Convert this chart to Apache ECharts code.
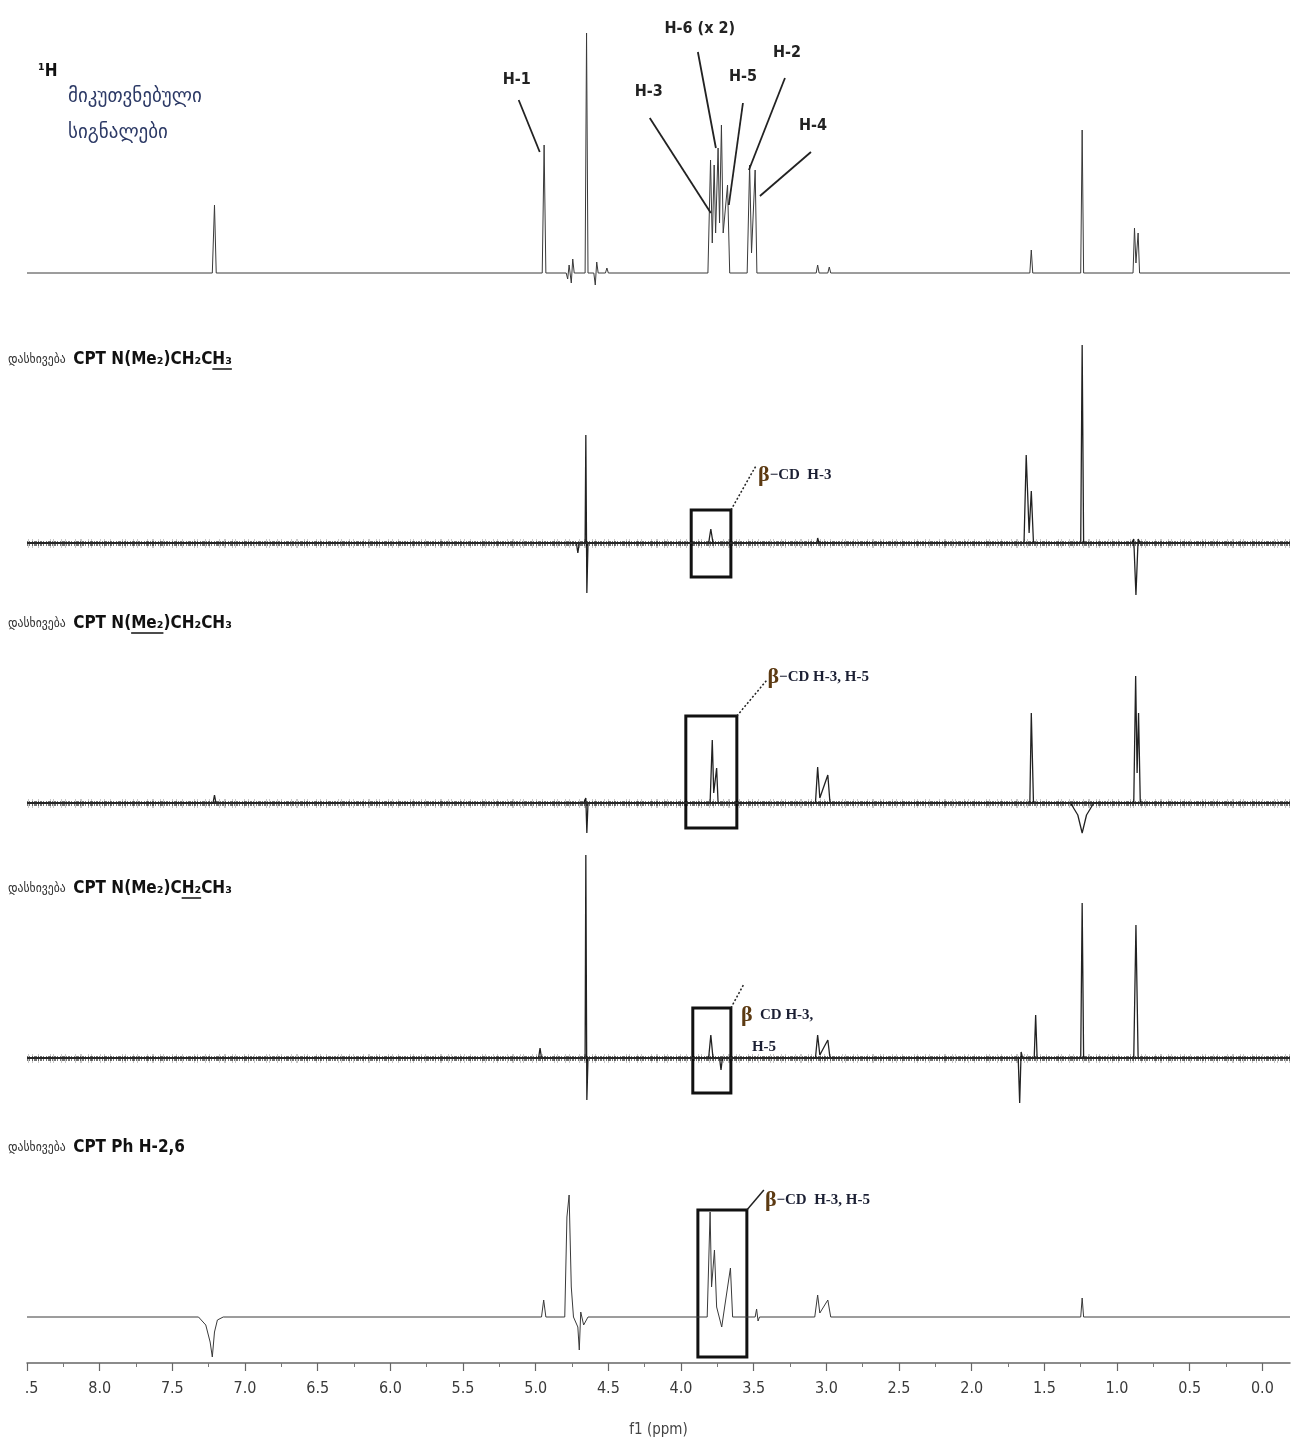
<!DOCTYPE html>
<html>
<head>
<meta charset="utf-8">
<script src="https://cdn.jsdelivr.net/npm/echarts@6/dist/echarts.min.js"></script>
<style>
  html, body { margin: 0; padding: 0; background: #fff; }
  #c { width: 1301px; height: 1443px; }
</style>
</head>
<body>
<div id="c"></div>
<script>
// Chemical shift axis (ppm), drawn right-to-left
const shiftMax = 8.5;
const shiftMin = -0.19;
const majorTicks = [8.5, 8.0, 7.5, 7.0, 6.5, 6.0, 5.5, 5.0, 4.5, 4.0, 3.5, 3.0, 2.5, 2.0, 1.5, 1.0, 0.5, 0.0];
const minorTicks = [8.25, 7.75, 7.25, 6.75, 6.25, 5.75, 5.25, 4.75, 4.25, 3.75, 3.25, 2.75, 2.25, 1.75, 1.25, 0.75, 0.25];

// 1H spectrum with assigned beta-CD signals: [ppm, intensity]
const assignedSpectrum = [
  [8.5, 0], [7.225, 0], [7.21, 68], [7.198, 0],
  [4.955, 0], [4.942, 128], [4.93, 0],
  [4.79, 0], [4.78, -6], [4.77, 8], [4.755, -10], [4.745, 14], [4.735, 0],
  [4.66, 0], [4.65, 240], [4.64, 0],
  [4.60, 0], [4.59, -12], [4.58, 11], [4.57, 0],
  [4.52, 0], [4.51, 5], [4.50, 0],
  [3.815, 0], [3.797, 113], [3.785, 30], [3.772, 108], [3.762, 40], [3.745, 125], [3.735, 50],
  [3.722, 148], [3.71, 40], [3.68, 88], [3.665, 0],
  [3.545, 0], [3.528, 108], [3.515, 20], [3.49, 103], [3.478, 0],
  [3.07, 0], [3.06, 8], [3.05, 0], [2.99, 0], [2.98, 6], [2.97, 0],
  [1.60, 0], [1.59, 23], [1.58, 0],
  [1.25, 0], [1.24, 143], [1.23, 0],
  [0.89, 0], [0.88, 45], [0.87, 10], [0.855, 40], [0.845, 0],
  [-0.19, 0]
];

// irradiation of CPT N(Me2)CH2CH3, methyl of the ethyl group
const irradCH3 = [
  [8.5, 0], [4.72, 0], [4.71, -10], [4.70, 0],
  [4.66, 0], [4.655, 108], [4.648, -50], [4.64, 0],
  [3.81, 0], [3.795, 14], [3.78, 0],
  [3.065, 0], [3.06, 5], [3.05, 0],
  [1.64, 0], [1.625, 88], [1.605, 10], [1.59, 52], [1.575, 0],
  [1.25, 0], [1.24, 198], [1.23, 0],
  [0.90, 0], [0.885, 4], [0.87, -52], [0.855, 4], [0.84, 0],
  [-0.19, 0]
];

// irradiation of the N-methyl groups
const irradNMe2 = [
  [8.5, 0], [7.22, 0], [7.21, 8], [7.20, 0],
  [4.67, 0], [4.655, 5], [4.648, -30], [4.64, 0],
  [3.80, 0], [3.785, 63], [3.775, 10], [3.755, 35], [3.745, 0],
  [3.075, 0], [3.06, 36], [3.045, 5], [2.99, 28], [2.975, 0],
  [1.60, 0], [1.59, 90], [1.575, 0],
  [1.32, 0], [1.27, -12], [1.24, -30], [1.21, -12], [1.16, 0],
  [0.885, 0], [0.872, 127], [0.862, 30], [0.852, 90], [0.84, 0],
  [-0.19, 0]
];

// irradiation of the N-CH2 of the ethyl group
const irradCH2 = [
  [8.5, 0], [4.98, 0], [4.97, 10], [4.96, 0],
  [4.66, 0], [4.655, 203], [4.648, -42], [4.64, 0],
  [3.81, 0], [3.795, 23], [3.78, 0], [3.735, 0], [3.725, -12], [3.715, 0],
  [3.075, 0], [3.06, 23], [3.045, 3], [2.99, 18], [2.975, 0],
  [1.68, 0], [1.67, -45], [1.66, 6], [1.65, 0],
  [1.57, 0], [1.56, 43], [1.55, 0],
  [1.25, 0], [1.24, 155], [1.23, 0],
  [0.885, 0], [0.87, 133], [0.855, 0],
  [-0.19, 0]
];

// irradiation of the phenyl H-2,6
const irradPhH26 = [
  [8.5, 0], [7.32, 0], [7.27, -8], [7.24, -25], [7.225, -40], [7.21, -15], [7.19, -3], [7.15, 0],
  [4.96, 0], [4.945, 17], [4.93, 0],
  [4.80, 0], [4.785, 100], [4.77, 122], [4.755, 30], [4.74, 0],
  [4.71, -10], [4.70, -33], [4.69, 5], [4.67, -8], [4.64, 0],
  [3.82, 0], [3.80, 105], [3.79, 30], [3.77, 67], [3.755, 10], [3.72, -10], [3.70, 10], [3.66, 49], [3.645, 0],
  [3.49, 0], [3.48, 8], [3.47, -4], [3.46, 0],
  [3.08, 0], [3.06, 22], [3.045, 4], [2.99, 17], [2.97, 0],
  [1.25, 0], [1.24, 19], [1.23, 0],
  [-0.19, 0]
];

// Framed beta-CD cross-peak regions: [ppm from, ppm to, top, bottom]
const boxCH3 = [3.93, 3.657, 33, -34];
const boxNMe2 = [3.967, 3.616, 87, -25];
const boxCH2 = [3.919, 3.657, 50, -35];
const boxPhH26 = [3.884, 3.547, 107, -40];

// Irradiation labels: prefix, formula before / underlined part / after
const traceLabels = [
  null,
  ['დასხივება', 'CPT N(Me₂)CH₂C', 'H₃', ''],
  ['დასხივება', 'CPT N(', 'Me₂', ')CH₂CH₃'],
  ['დასხივება', 'CPT N(Me₂)C', 'H₂', 'CH₃'],
  ['დასხივება', 'CPT Ph H-2,6', '', '']
];

// Peak assignment labels on the top spectrum: text, label position, leader start, leader end
const peakLabels = [
  ['H-1', [5.131, 193], [5.117, 173], [4.972, 121]],
  ['H-3', [4.222, 181], [4.215, 155], [3.795, 60]],
  ['H-6 (x 2)', [3.871, 244], [3.884, 221], [3.760, 125]],
  ['H-5', [3.574, 196], [3.574, 170], [3.671, 68]],
  ['H-2', [3.271, 220], [3.285, 195], [3.533, 103]],
  ['H-4', [3.092, 147], [3.106, 121], [3.457, 77]]
];

const traces = [assignedSpectrum, irradCH3, irradNMe2, irradCH2, irradPhH26];
const boxes = [null, boxCH3, boxNMe2, boxCH2, boxPhH26];
const noisy = [false, true, true, true, false];

const baselines = [273, 543, 803, 1058, 1317];
const gridLeft = 27, gridWidth = 1263;
const narrowBold = '"Liberation Sans Narrow", "DejaVu Sans Condensed", "Liberation Sans", sans-serif';

const chart = echarts.init(document.getElementById('c'), null, { renderer: 'canvas' });

const grids = [], xAxes = [], yAxes = [], series = [];
traces.forEach((data, k) => {
  const last = k === traces.length - 1;
  const below = last ? 46 : 70;
  grids.push({ left: gridLeft, width: gridWidth, top: baselines[k] - 250, height: 250 + below });
  xAxes.push({
    type: 'value', gridIndex: k, inverse: true, min: shiftMin, max: shiftMax,
    show: last, position: 'bottom',
    name: last ? 'f1 (ppm)' : '', nameLocation: 'middle', nameGap: 60,
    nameTextStyle: { fontFamily: 'DejaVu Sans Condensed', fontSize: 15, color: '#444' },
    axisLine: { show: true, onZero: false, lineStyle: { color: '#666', width: 1.5 } },
    axisTick: { show: true, inside: false, length: 8, customValues: majorTicks, lineStyle: { color: '#666', width: 1.2 } },
    axisLabel: { show: true, customValues: majorTicks, margin: 18, formatter: v => v.toFixed(1),
      fontFamily: 'DejaVu Sans Condensed', fontSize: 16, color: '#3a3a3a' },
    splitLine: { show: false }
  });
  yAxes.push({ type: 'value', gridIndex: k, min: -below, max: 250, show: false, splitLine: { show: false } });

  const s = {
    type: 'line', xAxisIndex: k, yAxisIndex: k, data: data,
    showSymbol: false, symbol: 'none', animation: false, silent: true,
    lineStyle: { color: noisy[k] ? '#222' : '#3a3a3a', width: noisy[k] ? 1.3 : 1 }, z: 3
  };
  if (noisy[k]) {
    // grainy noise band along the baseline
    s.markLine = {
      silent: true, symbol: ['none', 'none'], animation: false, label: { show: false },
      lineStyle: { color: '#222', width: 2, type: 'solid' },
      data: [
        { yAxis: 0, lineStyle: { color: 'rgba(0,0,0,0.22)', width: 9,
          type: [1, 3, 1, 7, 1, 2, 1, 11, 1, 5, 1, 3, 1, 8, 1, 2, 1, 6, 2, 4, 1, 9] } },
        { yAxis: 0, lineStyle: { color: 'rgba(0,0,0,0.55)', width: 5, type: [1, 1, 2, 1, 1, 1, 3, 1, 1, 2] } },
        { yAxis: 0, lineStyle: { color: '#262626', width: 2, type: 'solid' } }
      ]
    };
  }
  if (boxes[k]) {
    const b = boxes[k];
    s.markArea = {
      silent: true, animation: false,
      itemStyle: { color: 'rgba(0,0,0,0)', borderColor: '#111', borderWidth: 3 },
      data: [[{ coord: [b[0], b[2]] }, { coord: [b[1], b[3]] }]]
    };
  }
  series.push(s);
});

// minor ticks on the shift axis
xAxes.push({
  type: 'value', gridIndex: 4, inverse: true, min: shiftMin, max: shiftMax, position: 'bottom', offset: 0,
  axisLine: { show: false, onZero: false },
  axisTick: { show: true, length: 4, customValues: minorTicks, lineStyle: { color: '#777', width: 1 } },
  axisLabel: { show: false }, splitLine: { show: false }
});

chart.setOption({
  backgroundColor: '#fff',
  animation: false,
  grid: grids, xAxis: xAxes, yAxis: yAxes, series: series
});

// annotations placed from data coordinates
const px = (k, p) => chart.convertToPixel({ gridIndex: k }, p);
const g = [];
const leader = (k, a, b, dotted, w) => {
  const p1 = px(k, a), p2 = px(k, b);
  g.push({ type: 'line', z: 20, silent: true,
    shape: { x1: p1[0], y1: p1[1], x2: p2[0], y2: p2[1] },
    style: { stroke: '#222', lineWidth: w, lineDash: dotted ? [2, 2] : null } });
};

peakLabels.forEach(([t, at, a, b]) => {
  const p = px(0, at);
  g.push({ type: 'text', z: 20, silent: true, x: p[0], y: p[1],
    style: { text: t, align: 'center', verticalAlign: 'middle', fill: '#222',
      font: 'bold 16px ' + narrowBold } });
  leader(0, a, b, false, 1.8);
});

// beta-CD call-outs for the irradiation spectra
const cdRich = {
  b: { fontFamily: 'Liberation Serif', fontSize: 22, fontWeight: 'bold', fill: '#5c3a12', color: '#5c3a12' },
  t: { fontFamily: 'Liberation Serif', fontSize: 15, fontWeight: 'bold', fill: '#1b1f33', color: '#1b1f33' }
};
const callout = (k, textStr, at, a, b, dotted) => {
  const p = px(k, at);
  g.push({ type: 'text', z: 20, silent: true, x: p[0], y: p[1],
    style: { text: textStr, rich: cdRich, align: 'left', verticalAlign: 'middle' } });
  leader(k, a, b, dotted, 1.5);
};
callout(1, '{b|β}{t|−CD  H-3}', [3.47, 68], [3.657, 33], [3.485, 77], true);
callout(2, '{b|β}{t|−CD H-3, H-5}', [3.405, 126], [3.616, 87], [3.409, 123], true);
callout(3, '{b|β}{t|  CD H-3,}', [3.588, 43], [3.657, 50], [3.567, 74], true);
(function () {
  const p = px(3, [3.512, 11]);
  g.push({ type: 'text', z: 20, silent: true, x: p[0], y: p[1],
    style: { text: '{t|H-5}', rich: cdRich, align: 'left', verticalAlign: 'middle' } });
})();
callout(4, '{b|β}{t|−CD  H-3, H-5}', [3.423, 117], [3.547, 107], [3.43, 127], false);

// heading of the assigned spectrum
g.push({ type: 'text', z: 20, silent: true, x: 38, y: 72,
  style: { text: '¹H', fill: '#111', verticalAlign: 'middle', font: 'bold 17px ' + narrowBold } });
g.push({ type: 'text', z: 20, silent: true, x: 68, y: 97,
  style: { text: 'მიკუთვნებული', fill: '#2d3a66', verticalAlign: 'middle', font: '19px "DejaVu Sans", sans-serif' } });
g.push({ type: 'text', z: 20, silent: true, x: 68, y: 133,
  style: { text: 'სიგნალები', fill: '#2d3a66', verticalAlign: 'middle', font: '19px "DejaVu Sans", sans-serif' } });

// irradiation labels with the irradiated group underlined
const measureCtx = document.createElement('canvas').getContext('2d');
const textWidth = (font, s) => { measureCtx.font = font; return measureCtx.measureText(s).width; };
const geoFont = 'normal normal 13px "DejaVu Sans Condensed", sans-serif';
const formulaFont = 'normal bold 17px ' + narrowBold;
const labelY = [0, 360, 624, 889, 1148];
traceLabels.forEach((lab, k) => {
  if (!lab) return;
  const [geo, pre, under, post] = lab;
  g.push({ type: 'text', z: 20, silent: true, x: 8, y: labelY[k],
    style: { text: '{g|' + geo + '  }{c|' + pre + under + post + '}', verticalAlign: 'middle',
      rich: {
        g: { fontFamily: '"DejaVu Sans Condensed", sans-serif', fontSize: 13, fill: '#333', color: '#333' },
        c: { fontFamily: narrowBold, fontSize: 17, fontWeight: 'bold', fill: '#111', color: '#111' }
      } } });
  if (under) {
    const x0 = 8 + textWidth(geoFont, geo + '  ') + textWidth(formulaFont, pre);
    const len = textWidth(formulaFont, under);
    g.push({ type: 'line', z: 20, silent: true,
      shape: { x1: x0, y1: labelY[k] + 9, x2: x0 + len, y2: labelY[k] + 9 },
      style: { stroke: '#111', lineWidth: 1.5 } });
  }
});

// cropped left edge of the shift scale
g.push({ type: 'rect', z: 30, silent: true, shape: { x: 0, y: 1372, width: 26, height: 40 }, style: { fill: '#fff' } });

chart.setOption({ graphic: g });
</script>
</body>
</html>
